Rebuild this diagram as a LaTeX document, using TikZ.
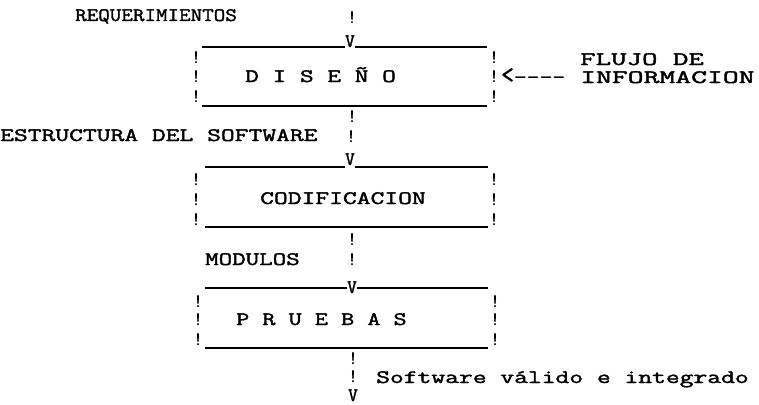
\documentclass[tikz,border=0pt]{standalone}
\usepackage{fontspec}
% typewriter face: Latin Modern Mono (slab serif), slightly emboldened
\newfontfamily\typefam{Latin Modern Mono}[BoldFont=*, BoldFeatures={FakeBold=1.6}]
\newcommand\typew{\typefam\bfseries\fontsize{19}{19}\selectfont}
\tikzset{
  tw/.style={anchor=base west, inner sep=0pt, font=\typew},
  bang/.style={anchor=base, inner sep=0pt, font=\typew},
  rule/.style={line width=1.6pt, line cap=butt}
}
\begin{document}
\begin{tikzpicture}[x=1pt, y=-1pt]
\fill[white] (0,0) rectangle (759,404);
\useasboundingbox (0,0) rectangle (759,404);

% ---- labels ----
\node[tw] (req) at (75,21) {\scalebox{1.18}[1]{REQUERIMIENTOS}};
\node[tw] (est) at (0,141) {\scalebox{1.41}[1]{ESTRUCTURA DEL SOFTWARE}};
\node[tw] (mod) at (205,265) {\scalebox{1.38}[1]{MODULOS}};
\node[tw] (sw)  at (376,383) {\scalebox{1.41}[1]{Software válido e integrado}};
\node[tw] (flujo) at (580,65) {\scalebox{1.58}[1]{FLUJO DE}};
\node[tw] (info)  at (580,83) {\scalebox{1.62}[1]{INFORMACION}};
\node[tw] (arrow) at (501,83) {\scalebox{1.3}[1.4]{<}\scalebox{1.31}[1]{----}};

% ---- box titles ----
\node[tw] (dis) at (245,82)  {\scalebox{1.40}[1]{D I S E Ñ O}};
\node[tw] (cod) at (260,204) {\scalebox{1.41}[1]{CODIFICACION}};
\node[tw] (pru) at (236,325) {\scalebox{1.34}[1]{P R U E B A S}};

% ---- box sides ----
\foreach \y [count=\i] in {63,82,102} {
  \node[bang] (la-\i) at (196,\y) {!};
  \node[bang] (ra-\i) at (494,\y) {!};
}
\foreach \y [count=\i] in {185,205,225} {
  \node[bang] (lb-\i) at (196,\y) {!};
  \node[bang] (rb-\i) at (494,\y) {!};
}
\foreach \y [count=\i] in {307,325,345} {
  \node[bang] (lc-\i) at (198,\y) {!};
  \node[bang] (rc-\i) at (495,\y) {!};
}

% ---- flow connectors ----
\node[bang] (c1a) at (352,23) {!};
\node[bang] (v1)  at (350,47) {V};
\node[bang] (c2a) at (352,122) {!};
\node[bang] (c2b) at (351,142) {!};
\node[bang] (v2)  at (350,165) {V};
\node[bang] (c3a) at (352,245) {!};
\node[bang] (c3b) at (352,265) {!};
\node[bang] (v3)  at (352,293) {V};
\node[bang] (c4a) at (353,364) {!};
\node[bang] (c4b) at (353,382) {!};
\node[bang] (v4)  at (353,401) {V};

% ---- box tops and bottoms ----
\coordinate (t1l) at (202,47);  \coordinate (t1r) at (487,47);
\coordinate (b1l) at (202,106); \coordinate (b1r) at (487,106);
\coordinate (t2l) at (205,167); \coordinate (t2r) at (488,167);
\coordinate (b2l) at (205,227); \coordinate (b2r) at (488,227);
\coordinate (t3l) at (205,288); \coordinate (t3r) at (488,288);
\coordinate (b3l) at (205,348); \coordinate (b3r) at (488,348);

\draw[rule] (t1l) -- (v1.west |- t1l) (v1.east |- t1r) -- (t1r);
\draw[rule] (b1l) -- (b1r);
\draw[rule] (t2l) -- (v2.west |- t2l) (v2.east |- t2r) -- (t2r);
\draw[rule] (b2l) -- (b2r);
\draw[rule] (t3l) -- (v3.west |- t3l) (v3.east |- t3r) -- (t3r);
\draw[rule] (b3l) -- (b3r);
\end{tikzpicture}
\end{document}
